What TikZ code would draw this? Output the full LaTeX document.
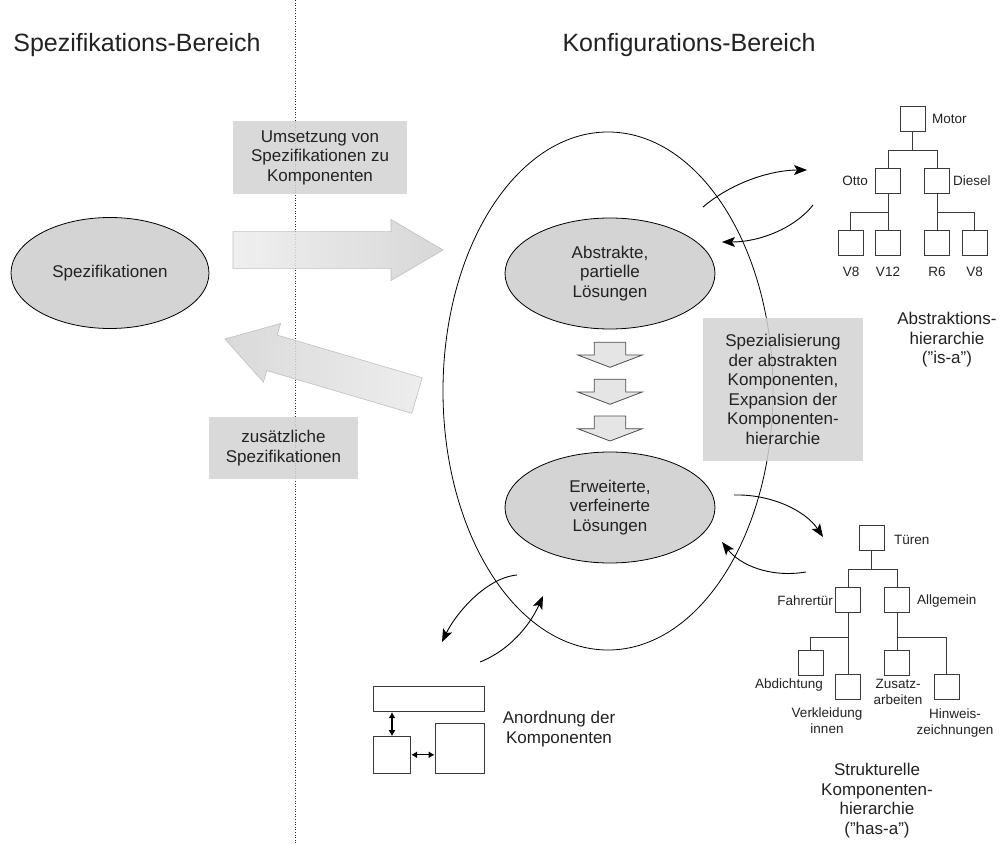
\documentclass[tikz,border=0pt]{standalone}
\usepackage{fontspec}
\setmainfont{Liberation Sans}
\usetikzlibrary{shapes.geometric,arrows.meta,calc}

\definecolor{ink}{HTML}{222222}
\definecolor{blobgray}{HTML}{D4D4D4}
\definecolor{boxgray}{HTML}{D3D3D3}
\definecolor{stepgray}{HTML}{E5E5E5}
\definecolor{treeline}{HTML}{3A3A3A}

\tikzset{
  lbl/.style={font=\fontsize{17}{19.5}\selectfont, align=center, text=ink, inner sep=0pt},
  smalllbl/.style={font=\fontsize{13.5}{16}\selectfont, align=center, text=ink, inner sep=0pt},
  titlelbl/.style={font=\fontsize{25}{30}\selectfont, text=ink, inner sep=0pt},
  graybox/.style={rectangle, fill=boxgray, fill opacity=0.85, text opacity=1, draw=none, inner sep=0pt},
  blob/.style={ellipse, draw=black, line width=0.8pt, fill=blobgray, inner sep=0pt},
  tbox/.style={rectangle, draw=treeline, line width=0.9pt, fill=white, minimum width=25pt, minimum height=25pt, inner sep=0pt},
  tline/.style={draw=treeline, line width=0.9pt},
  lbox/.style={rectangle, draw=treeline, line width=0.9pt, inner sep=0pt},
  flow/.style={line width=0.9pt, -{Stealth[length=13pt,width=10pt,inset=3pt]}},
  dbl/.style={line width=1.1pt, {Latex[length=6pt,width=7pt]}-{Latex[length=6pt,width=7pt]}},
  bigarrow/.style={draw=black!25, line width=0.6pt, fill opacity=0.85},
  downarrow/.style={draw=black!70, line width=0.8pt, fill=stepgray},
}

\begin{document}
\begin{tikzpicture}[x=1pt,y=-1pt]
\useasboundingbox (0,0) rectangle (1004,845);
\fill[white] (0,0) rectangle (1004,845);

% separator between the two areas
\coordinate (dtop) at (295,0);
\coordinate (dbot) at (295,845);
\draw[black!85, line width=0.8pt, dash pattern=on 1pt off 1.6pt] (dtop) -- (dbot);

% headings
\node[titlelbl] (hspec) at (137,45) {Spezifikations-Bereich};
\node[titlelbl] (hkonf) at (689,45) {Konfigurations-Bereich};

% configuration space
\node[ellipse, draw=black, line width=0.8pt, minimum width=330pt, minimum height=518pt, inner sep=0pt] (konfig) at (608,391) {};

% specification side
\node[blob, minimum width=198pt, minimum height=111pt, lbl] (spec) at (110,273) {Spezifikationen};

% forward transfer arrow
\shade[bigarrow, left color=black!7, right color=black!18]
  (233,231.7) -- (391,231.7) -- (391,219.5) -- (443,250) -- (391,280.5) -- (391,268.3) -- (233,268.3) -- cycle;
% backward arrow with additional specifications
\shade[bigarrow, left color=black!17, right color=black!8]
  (422.2,377.8) -- (277.2,335.1) -- (280.6,323.5) -- (225,339) -- (263.4,382.1) -- (266.8,370.6) -- (411.8,413.3) -- cycle;

\node[graybox, minimum width=174pt, minimum height=73pt] (umsbox) at (320,157.5) {};
\node[lbl] (umstxt) at (umsbox) {Umsetzung von\\Spezifikationen zu\\Komponenten};

\node[graybox, minimum width=149pt, minimum height=62pt] (zusbox) at (283.5,448) {};
\node[lbl] (zustxt) at (zusbox) {zusätzliche\\Spezifikationen};

% solution stages
\node[blob, minimum width=210pt, minimum height=111pt, lbl] (abstr) at (610,273.5) {Abstrakte,\\partielle\\Lösungen};
\node[blob, minimum width=210pt, minimum height=111pt, lbl] (erw) at (610,507.5) {Erweiterte,\\verfeinerte\\Lösungen};

\foreach \t in {342.3,379.3,416} {
  \draw[downarrow] (594.3,\t) -- (625.7,\t) -- (625.7,\t+12.7) -- (642.3,\t+12.7)
    -- (610,\t+25) -- (577.7,\t+12.7) -- (594.3,\t+12.7) -- cycle;
}

\node[graybox, minimum width=160pt, minimum height=143pt] (spezbox) at (783,389.5) {};
\node[lbl] (speztxt) at (spezbox) {Spezialisierung\\der abstrakten\\Komponenten,\\Expansion der\\Komponenten-\\hierarchie};

% abstraction hierarchy (is-a)
\node[tbox] (motor) at (912.5,119) {};
\node[tbox] (otto) at (888,180.5) {};
\node[tbox] (diesel) at (937,180.5) {};
\node[tbox] (v8a) at (850.5,242.5) {};
\node[tbox] (v12) at (888,242.5) {};
\node[tbox] (r6) at (937,242.5) {};
\node[tbox] (v8b) at (974.5,242.5) {};
\draw[tline] (motor.south) -- (motor.south |- 0,150) -| (otto.north);
\draw[tline] (motor.south |- 0,150) -| (diesel.north);
\draw[tline] (otto.south) -- (v12.north);
\draw[tline] (otto.south |- 0,212) -| (v8a.north);
\draw[tline] (diesel.south) -- (r6.north);
\draw[tline] (diesel.south |- 0,212) -| (v8b.north);
\node[smalllbl, anchor=west] (lmotor) at (932,119) {Motor};
\node[smalllbl, anchor=east] (lotto) at (868,181) {Otto};
\node[smalllbl, anchor=west] (ldiesel) at (953,181) {Diesel};
\node[smalllbl] (lv8a) at (851,272) {V8};
\node[smalllbl] (lv12) at (888,272) {V12};
\node[smalllbl] (lr6) at (937,272) {R6};
\node[smalllbl] (lv8b) at (974.5,272) {V8};
\node[lbl] (isa) at (947,340) {Abstraktions-\\hierarchie\\("is-a”)};

% structural hierarchy (has-a)
\node[tbox] (tueren) at (871.5,537.5) {};
\node[tbox] (fahrer) at (848,600) {};
\node[tbox] (allg) at (897,600) {};
\node[tbox] (abd) at (810.5,662.5) {};
\node[tbox] (verk) at (848,686.5) {};
\node[tbox] (zus) at (897,662.5) {};
\node[tbox] (hinw) at (946.5,686.5) {};
\draw[tline] (tueren.south) -- (tueren.south |- 0,569) -| (fahrer.north);
\draw[tline] (tueren.south |- 0,569) -| (allg.north);
\draw[tline] (fahrer.south) -- (verk.north);
\draw[tline] (fahrer.south |- 0,637) -| (abd.north);
\draw[tline] (allg.south) -- (zus.north);
\draw[tline] (allg.south |- 0,637) -| (hinw.north);
\node[smalllbl, anchor=west] (ltueren) at (894,540) {Türen};
\node[smalllbl, anchor=east] (lfahrer) at (833,601) {Fahrertür};
\node[smalllbl, anchor=west] (lallg) at (917,601) {Allgemein};
\node[smalllbl] (labd) at (789,685) {Abdichtung};
\node[smalllbl] (lverk) at (827,721) {Verkleidung\\innen};
\node[smalllbl] (lzus) at (898,692) {Zusatz-\\arbeiten};
\node[smalllbl] (lhinw) at (955,723) {Hinweis-\\zeichnungen};
\node[lbl] (hasa) at (877,800.5) {Strukturelle\\Komponenten-\\hierarchie\\("has-a”)};

% arrangement of components
\node[lbox, minimum width=111pt, minimum height=25pt] (ltop) at (428.8,699.2) {};
\node[lbox, minimum width=37.4pt, minimum height=36.3pt] (lbl1) at (392,754.8) {};
\node[lbox, minimum width=49.3pt, minimum height=49.7pt] (lbr) at (459.7,748.2) {};
\draw[dbl] (lbl1.north) -- (lbl1.north |- ltop.south);
\draw[dbl] (lbl1.east) -- (lbl1.east -| lbr.west);
\node[lbl] (anord) at (559,729) {Anordnung der\\Komponenten};

% exchange with the hierarchies and the arrangement
\coordinate (a1s) at (703,207);  \coordinate (a1e) at (807,170);
\coordinate (a2s) at (813,205);  \coordinate (a2e) at (722,242);
\coordinate (a3s) at (734,495);  \coordinate (a3e) at (823,537);
\coordinate (a4s) at (806,572);  \coordinate (a4e) at (722,542);
\coordinate (a5s) at (517,575);  \coordinate (a5e) at (442,642);
\coordinate (a6s) at (480,662);  \coordinate (a6e) at (543,596);
\draw[flow] (a1s) .. controls (735,180) and (775,170) .. (a1e);
\draw[flow] (a2s) .. controls (795,228) and (760,242) .. (a2e);
\draw[flow] (a3s) .. controls (770,494) and (805,510) .. (a3e);
\draw[flow] (a4s) .. controls (770,578) and (740,565) .. (a4e);
\draw[flow] (a5s) .. controls (485,578) and (455,615) .. (a5e);
\draw[flow] (a6s) .. controls (510,650) and (530,625) .. (a6e);
\end{tikzpicture}
\end{document}
